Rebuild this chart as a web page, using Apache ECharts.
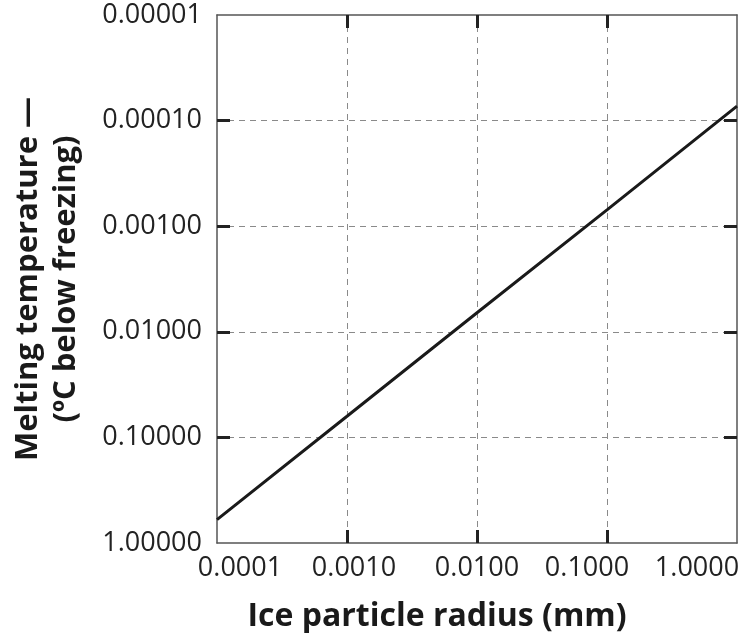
<!DOCTYPE html>
<html>
<head>
<meta charset="utf-8">
<script src="https://cdn.jsdelivr.net/npm/echarts@6/dist/echarts.min.js"></script>
<style>html,body{margin:0;padding:0;background:#fff}#c{width:747px;height:633px}</style>
</head>
<body>
<div id="c"></div>
<script>
// Data
const radius = [0.0001, 0.001, 0.01, 0.1, 1.0];
const meltTemp = [0.60, 0.063, 0.0066, 0.0007, 0.000073];
const xTicks = [0.001, 0.01, 0.1];
const yTicks = [0.0001, 0.001, 0.01, 0.1];
const xTitle = 'Ice particle radius (mm)';
const yTitle = 'Melting temperature —\n(ºC below freezing)';

const FONT = '"Open Sans", sans-serif';
const chart = echarts.init(document.getElementById('c'), null, {renderer: 'canvas'});
const tickStyle = {show: true, inside: true, length: 13, lineStyle: {color: '#222', width: 3}};
const gridLine = {show: true, lineStyle: {color: '#8a8a8a', type: [6, 5], width: 1}};
const axisLine = {show: true, lineStyle: {color: '#555', width: 1.5}};

// label nudges (styling only): matches the uneven label placement of the original
const lblBase = {fontFamily: FONT, fontSize: 27, color: '#222'};
const xRich = {
  a0: Object.assign({padding: [0, 0, 0, 46]}, lblBase),
  a1: Object.assign({padding: [0, 0, 0, 14]}, lblBase),
  a2: Object.assign({padding: [0, 0, 0, 0]}, lblBase),
  a3: Object.assign({padding: [0, 40, 0, 0]}, lblBase),
  a4: Object.assign({padding: [0, 80, 0, 0]}, lblBase)
};
function xLabel(v) {
  const k = Math.round(Math.log10(v) + 4);
  return '{a' + k + '|' + Number(v).toFixed(4) + '}';
}

chart.setOption({
  animation: false,
  backgroundColor: '#fff',
  grid: {left: 217, right: 10, top: 15, bottom: 90, show: false, containLabel: false, outerBoundsMode: 'none'},
  xAxis: [{
    type: 'log', logBase: 10, min: 0.0001, max: 1, position: 'bottom',
    axisLine: axisLine,
    axisTick: Object.assign({customValues: xTicks}, tickStyle),
    splitLine: gridLine,
    axisLabel: {formatter: xLabel, rich: xRich, fontFamily: FONT, fontSize: 27, color: '#222', margin: 12,
      hideOverlap: false},
    name: xTitle, nameLocation: 'middle', nameGap: 58,
    nameTextStyle: {fontFamily: FONT, fontWeight: 'bold', fontSize: 32, color: '#1a1a1a', padding: [0, 80, 0, 0]}
  }, {
    type: 'log', logBase: 10, min: 0.0001, max: 1, position: 'top',
    axisLine: axisLine,
    axisTick: Object.assign({customValues: xTicks}, tickStyle),
    splitLine: {show: false}, axisLabel: {show: false}
  }],
  yAxis: [{
    type: 'log', logBase: 10, min: 0.00001, max: 1, inverse: true, position: 'left',
    axisLine: axisLine,
    axisTick: Object.assign({customValues: yTicks}, tickStyle),
    splitLine: gridLine,
    axisLabel: {formatter: v => Number(v).toFixed(5), fontFamily: FONT, fontSize: 27, color: '#222', margin: 15},
    name: yTitle, nameLocation: 'middle', nameRotate: 90, nameGap: 132,
    nameTextStyle: {fontFamily: FONT, fontWeight: 'bold', fontSize: 31, color: '#1a1a1a', lineHeight: 38, align: 'center'}
  }, {
    type: 'log', logBase: 10, min: 0.00001, max: 1, inverse: true, position: 'right',
    axisLine: axisLine,
    axisTick: Object.assign({customValues: yTicks}, tickStyle),
    splitLine: {show: false}, axisLabel: {show: false}
  }],
  series: [{
    type: 'line', xAxisIndex: 0, yAxisIndex: 0,
    data: radius.map((r, i) => [r, meltTemp[i]]),
    showSymbol: false, symbol: 'none',
    lineStyle: {color: '#1a1a1a', width: 3}
  }]
});
</script>
</body>
</html>
